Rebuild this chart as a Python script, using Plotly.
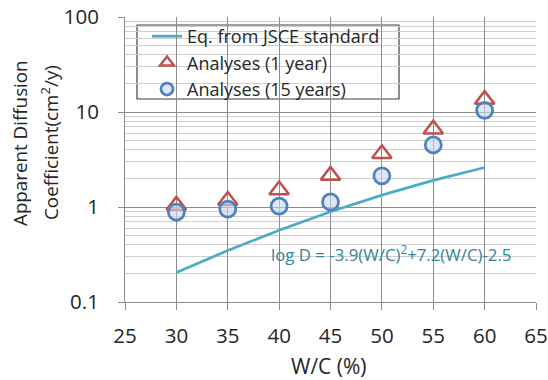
import plotly.graph_objects as go

# Water-cement ratio (%)
wc = [30, 35, 40, 45, 50, 55, 60]

# JSCE standard: log D = -3.9(W/C)^2 + 7.2(W/C) - 2.5, evaluated at each W/C
d_jsce = [0.204, 0.348, 0.570, 0.892, 1.334, 1.907, 2.606]

# Apparent diffusion coefficient from the analyses (cm^2/y)
d_1year = [1.04, 1.17, 1.51, 2.15, 3.63, 6.6, 13.5]
d_15years = [0.885, 0.95, 1.02, 1.13, 2.13, 4.5, 10.4]

x_ticks = [25, 30, 35, 40, 45, 50, 55, 60, 65]
y_ticks = [0.1, 1, 10, 100]
y_tick_text = ["0.1", "1", "10", "100"]
y_minor = [m * 10 ** e for e in (-1, 0, 1) for m in range(2, 10)]

FONT = "Open Sans"
TEXT = "#262626"
GRID = "#8c8c8c"

W, H = 548, 380
L, R, T, B = 125, 12, 17, 78


def px_x(p):
    """pixel column -> paper x"""
    return (p - L) / (W - L - R)


def px_y(p):
    """pixel row -> paper y"""
    return 1 - (p - T) / (H - T - B)


line_style = dict(color="#4bacc6", width=2.75)
tri_style = dict(symbol="triangle-up-open", color="#c0504d",
                 line=dict(color="#c0504d", width=2.5))
circ_style = dict(symbol="circle", color="rgba(198,217,241,0.6)",
                  line=dict(color="#4f81bd", width=2.75))

fig = go.Figure()

fig.add_trace(go.Scatter(
    x=wc, y=d_jsce, mode="lines", name="Eq. from JSCE standard",
    line=line_style, legendgroup="jsce",
))
fig.add_trace(go.Scatter(
    x=wc, y=d_1year, mode="markers", name="Analyses (1 year)",
    marker=dict(size=17, **tri_style), showlegend=False, legendgroup="y1",
))
fig.add_trace(go.Scatter(
    x=wc, y=d_15years, mode="markers", name="Analyses (15 years)",
    marker=dict(size=16, **circ_style), showlegend=False, legendgroup="y15",
))
# legend keys with smaller symbols than the plotted markers
fig.add_trace(go.Scatter(
    x=[None], y=[None], mode="markers", name="Analyses (1 year)",
    marker=dict(size=12, **tri_style), legendgroup="y1",
))
fig.add_trace(go.Scatter(
    x=[None], y=[None], mode="markers", name="Analyses (15 years)",
    marker=dict(size=12, **circ_style), legendgroup="y15",
))

# compact frame behind the legend entries
fig.add_shape(
    type="rect", xref="paper", yref="paper", layer="below",
    x0=px_x(137), x1=px_x(399), y0=px_y(99), y1=px_y(25),
    fillcolor="white", line=dict(color="#404040", width=1.2),
)

# equation label next to the JSCE curve
fig.add_annotation(
    x=px_x(391), y=px_y(253), xref="paper", yref="paper",
    xanchor="center", yanchor="middle", showarrow=False,
    text="log D = -3.9(W/C)<sup>2</sup>+7.2(W/C)-2.5",
    font=dict(family=FONT, size=16.8, color="#31849b"),
)

# y-axis title (two lines)
fig.add_annotation(
    x=px_x(20), y=px_y(143), xref="paper", yref="paper", showarrow=False,
    xanchor="center", yanchor="middle",
    textangle=-90, text="Apparent Diffusion",
    font=dict(family=FONT, size=18.8, color=TEXT),
)
fig.add_annotation(
    x=px_x(50), y=px_y(143), xref="paper", yref="paper", showarrow=False,
    xanchor="center", yanchor="middle",
    textangle=-90, text="Coefficient(cm<sup>2</sup>/y)",
    font=dict(family=FONT, size=18.8, color=TEXT),
)

# x-axis title
fig.add_annotation(
    x=px_x(329), y=px_y(366), xref="paper", yref="paper", showarrow=False,
    xanchor="center", yanchor="middle", text="W/C (%)",
    font=dict(family=FONT, size=21, color=TEXT),
)

fig.update_layout(
    width=W, height=H,
    margin=dict(l=L, r=R, t=T, b=B, autoexpand=False),
    paper_bgcolor="white", plot_bgcolor="white",
    font=dict(family=FONT, size=20.5, color=TEXT),
    showlegend=True,
    legend=dict(
        x=px_x(147), y=px_y(18), xanchor="left", yanchor="top",
        bgcolor="rgba(0,0,0,0)", borderwidth=0,
        font=dict(family=FONT, size=18, color=TEXT),
        tracegroupgap=0, itemwidth=30, traceorder="normal",
    ),
    xaxis=dict(
        range=[25, 65], tickvals=x_ticks, ticks="outside", ticklen=7,
        tickcolor=GRID, showline=True, linecolor=GRID, linewidth=1,
        showgrid=True, gridcolor=GRID, gridwidth=1, zeroline=False,
        automargin=False, ticklabelstandoff=8,
    ),
    yaxis=dict(
        type="log", range=[-1, 2], tickvals=y_ticks, ticktext=y_tick_text,
        ticks="outside", ticklen=6, tickcolor=GRID,
        showline=True, linecolor=GRID, linewidth=1,
        showgrid=True, gridcolor=GRID, gridwidth=1, zeroline=False,
        automargin=False, ticklabelstandoff=15,
        minor=dict(tickvals=y_minor, showgrid=True, gridcolor="#cfcfcf",
                   gridwidth=1, ticks=""),
    ),
)

fig.write_html("out.html")
